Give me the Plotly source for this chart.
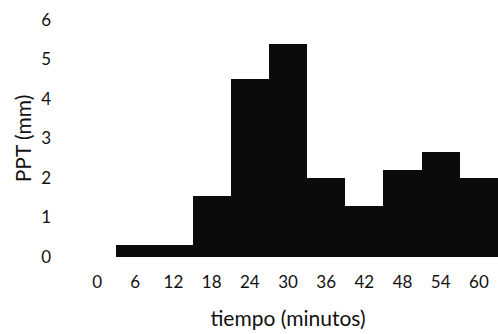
import plotly.graph_objects as go

categories = ["0", "6", "12", "18", "24", "30", "36", "42", "48", "54", "60"]
ppt_mm = [0.0, 0.3, 0.3, 1.55, 4.5, 5.4, 2.0, 1.3, 2.2, 2.65, 2.0]
y_ticks = [0, 1, 2, 3, 4, 5, 6]

FONT = "Lato"

fig = go.Figure(
    go.Bar(
        x=categories,
        y=ppt_mm,
        marker=dict(color="#0b0b0b", line=dict(width=0)),
    )
)

fig.update_layout(
    width=498,
    height=334,
    margin=dict(l=78, r=0, t=20, b=77),
    paper_bgcolor="white",
    plot_bgcolor="white",
    bargap=0,
    showlegend=False,
    font=dict(family=FONT, size=16, color="#111"),
)

fig.update_xaxes(
    type="category",
    range=[-0.5, 10.5],
    showgrid=False,
    showline=False,
    zeroline=False,
    ticks="",
    ticklabelstandoff=13,
    tickfont=dict(size=17, family=FONT),
    title=dict(text="tiempo (minutos)", font=dict(size=21, family=FONT), standoff=20),
)

fig.update_yaxes(
    range=[0, 6],
    tickvals=y_ticks,
    showgrid=False,
    showline=False,
    zeroline=False,
    ticks="",
    ticklabelstandoff=26,
    tickfont=dict(size=17, family=FONT),
    title=dict(text="PPT (mm)", font=dict(size=21, family=FONT), standoff=3),
)

fig.write_html("out.html")
